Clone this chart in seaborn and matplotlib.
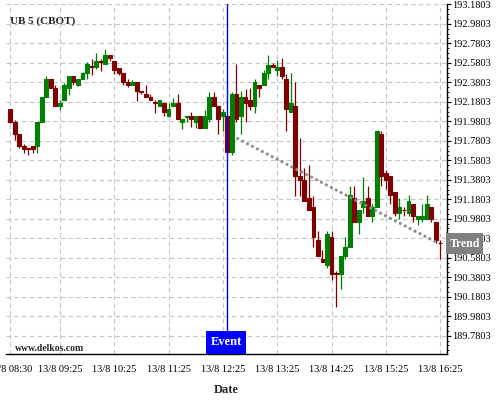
import numpy as np
import pandas as pd
import matplotlib
matplotlib.use("Agg")
import matplotlib.pyplot as plt
import matplotlib.transforms as mtransforms
from matplotlib.patches import Rectangle
from matplotlib.ticker import FixedLocator, AutoMinorLocator, FormatStrFormatter
import seaborn as sns

sns.set_theme(style="white")
plt.rcParams['font.family'] = ['Liberation Serif', 'DejaVu Serif']

# 5 minute candles, 13/8 08:30 .. 16:25
opens = [192.102, 191.972, 191.846, 191.723, 191.710, 191.723, 191.723, 191.969, 192.225, 192.409,
         192.320, 192.133, 192.194, 192.320, 192.440, 192.348, 192.409, 192.471, 192.548, 192.535,
         192.594, 192.563, 192.655, 192.594, 192.529, 192.471, 192.379, 192.348, 192.379, 192.290,
         192.256, 192.225, 192.174, 192.133, 192.164, 192.034, 192.133, 192.164, 191.972, 192.028,
         192.034, 191.972, 192.034, 191.911, 192.003, 192.225, 192.133, 192.034, 192.031, 191.662,
         192.256, 192.031, 192.225, 192.194, 192.133, 192.348, 192.348, 192.471, 192.560, 192.501,
         192.532, 192.409, 192.071, 192.133, 191.416, 191.378, 191.191, 191.099, 190.761, 190.569,
         190.508, 190.792, 190.420, 190.416, 190.597, 190.692, 191.191, 190.945, 191.099, 191.191,
         191.010, 191.099, 191.846, 191.447, 191.416, 191.252, 191.037, 191.071, 191.037, 191.130,
         190.979, 190.979, 190.979, 191.099, 190.945, 190.733]
highs = [192.109, 191.990, 191.846, 191.751, 191.710, 191.723, 191.969, 192.225, 192.440, 192.409,
         192.348, 192.201, 192.371, 192.440, 192.440, 192.409, 192.484, 192.586, 192.621, 192.683,
         192.621, 192.724, 192.655, 192.594, 192.529, 192.471, 192.409, 192.399, 192.379, 192.290,
         192.348, 192.256, 192.194, 192.194, 192.164, 192.164, 192.222, 192.256, 192.003, 192.034,
         192.071, 192.034, 192.034, 192.095, 192.283, 192.283, 192.133, 192.102, 192.031, 192.276,
         192.563, 192.287, 192.314, 192.317, 192.417, 192.348, 192.501, 192.655, 192.580, 192.604,
         192.624, 192.468, 192.471, 192.379, 191.812, 191.505, 191.536, 191.214, 190.853, 190.659,
         190.853, 190.853, 190.443, 190.597, 190.789, 191.314, 191.314, 191.068, 191.413, 191.317,
         191.130, 191.877, 191.877, 191.478, 191.416, 191.252, 191.191, 191.102, 191.222, 191.130,
         191.010, 191.130, 191.222, 191.099, 190.945, 190.761]
lows = [191.962, 191.785, 191.710, 191.655, 191.631, 191.655, 191.655, 191.969, 192.225, 192.320,
        192.133, 192.099, 192.194, 192.253, 192.348, 192.338, 192.409, 192.409, 192.450, 192.519,
        192.494, 192.563, 192.594, 192.468, 192.453, 192.348, 192.330, 192.348, 192.187, 192.256,
        192.225, 192.194, 192.068, 192.133, 192.030, 192.034, 192.133, 192.003, 191.905, 191.969,
        191.921, 191.908, 191.911, 191.911, 191.969, 192.133, 191.846, 191.880, 191.652, 191.631,
        191.972, 191.846, 191.969, 192.092, 192.064, 192.228, 192.348, 192.409, 192.532, 192.443,
        192.417, 191.877, 192.071, 191.214, 191.214, 191.163, 191.068, 190.692, 190.600, 190.539,
        190.471, 190.351, 190.072, 190.256, 190.566, 190.692, 190.945, 190.822, 191.037, 191.010,
        190.945, 191.099, 191.317, 191.283, 191.130, 191.010, 190.976, 191.010, 191.010, 190.945,
        190.915, 190.945, 190.979, 190.945, 190.727, 190.566]
closes = [191.972, 191.846, 191.723, 191.696, 191.696, 191.696, 191.969, 192.225, 192.409, 192.320,
          192.133, 192.167, 192.348, 192.440, 192.382, 192.409, 192.471, 192.563, 192.537, 192.594,
          192.583, 192.655, 192.624, 192.501, 192.471, 192.379, 192.348, 192.379, 192.286, 192.283,
          192.225, 192.194, 192.167, 192.194, 192.071, 192.102, 192.164, 192.003, 192.003, 192.034,
          192.003, 192.034, 191.911, 192.034, 192.225, 192.133, 192.003, 192.071, 191.662, 192.256,
          192.000, 192.225, 192.164, 192.133, 192.379, 192.317, 192.471, 192.560, 192.532, 192.532,
          192.440, 192.102, 192.164, 191.416, 191.378, 191.163, 191.068, 190.792, 190.600, 190.539,
          190.822, 190.416, 190.416, 190.597, 190.692, 191.222, 190.945, 191.068, 191.160, 191.010,
          191.099, 191.877, 191.416, 191.378, 191.222, 191.037, 191.099, 191.065, 191.160, 191.010,
          191.007, 191.007, 191.130, 190.979, 190.761, 190.727]

tick_pos = [0, 11, 23, 35, 47, 59, 71, 83, 95]
tick_labels = ["13/8 08:30", "13/8 09:25", "13/8 10:25", "13/8 11:25", "13/8 12:25",
               "13/8 13:25", "13/8 14:25", "13/8 15:25", "13/8 16:25"]
event_idx = 48
trend_x = [50, 94]
trend_y = [191.808, 190.743]
ytick_vals = [round(189.7803 + 0.2 * k, 4) for k in range(18)]

df = pd.DataFrame({"open": opens, "high": highs, "low": lows, "close": closes})
df["idx"] = np.arange(len(df))
up = df["close"] >= df["open"]
df["col"] = np.where(up, "#008000", "#800000")

fig = plt.figure(figsize=(5, 4), dpi=100)
ax = fig.add_axes([0.012, 0.115, 0.882, 0.875])

# grid
for t in tick_pos:
    ax.axvline(t, color="#c4c4c4", lw=0.8, ls=(0, (4, 3)), zorder=0)
for v in ytick_vals:
    ax.axhline(v, color="#c4c4c4", lw=0.8, ls=(0, (4, 3)), zorder=0)

# candles
ax.vlines(df["idx"], df["low"], df["high"], colors=df["col"], lw=0.9, zorder=2)
ax.bar(df["idx"], (df["close"] - df["open"]).abs(), bottom=df[["open", "close"]].min(axis=1),
       width=0.85, color=df["col"], edgecolor=df["col"], linewidth=0.8, zorder=3)

# trend
sns.lineplot(x=trend_x, y=trend_y, ax=ax, color="#8c8c8c", lw=2.0,
             linestyle=(0, (1, 1)), zorder=4)

# event line and box
ax.axvline(event_idx, color="#0000ff", lw=1.0, zorder=5)
tr = mtransforms.blended_transform_factory(ax.transData, ax.transAxes)
ax.add_patch(Rectangle((43.3, 0), 8.8, 0.066, transform=tr, facecolor="#0000ff",
                       edgecolor="none", zorder=6, clip_on=False))
ax.text(47.7, 0.033, "Event", transform=tr, color="white", fontsize=9,
        fontweight="bold", ha="center", va="center", zorder=7)

ax.set_xlim(-0.9, 96.5)
ax.set_ylim(189.593, 193.183)

ax.xaxis.set_major_locator(FixedLocator(tick_pos))
ax.set_xticklabels(tick_labels)
ax.xaxis.set_minor_locator(FixedLocator([t for t in range(-1, 97, 3) if t not in tick_pos]))
ax.yaxis.tick_right()
ax.yaxis.set_major_locator(FixedLocator(ytick_vals))
ax.yaxis.set_major_formatter(FormatStrFormatter("%.4f"))
ax.yaxis.set_minor_locator(AutoMinorLocator(4))

ax.tick_params(axis="both", which="major", direction="out", length=3, width=0.8,
               colors="black", labelsize=7.5)
ax.tick_params(axis="x", which="major", pad=5)
ax.tick_params(axis="y", which="major", pad=1)
ax.tick_params(axis="both", which="minor", direction="out", length=1.5, width=0.6,
               colors="black")

for s in ["left", "top"]:
    ax.spines[s].set_visible(False)
for s in ["right", "bottom"]:
    ax.spines[s].set_color("black")
    ax.spines[s].set_linewidth(1.0)

ax.text(0.009, 0.951, "UB 5 (CBOT)", transform=ax.transAxes, fontsize=8,
        fontweight="bold", ha="left", va="center")
ax.text(0.02, 0.017, "www.delkos.com", transform=ax.transAxes, fontsize=7,
        fontweight="bold", ha="left", va="center")
fig.text(0.453, 0.025, "Date", fontsize=9, fontweight="bold", ha="center", va="center")

# trend label on the price axis
fig.patches.append(Rectangle((0.892, 0.365), 0.074, 0.0525, transform=fig.transFigure,
                             facecolor="#808080", edgecolor="none", zorder=5))
fig.text(0.929, 0.391, "Trend", color="white", fontsize=8.5, fontweight="bold",
         ha="center", va="center", zorder=6)

fig.savefig("out.png", dpi=100)
